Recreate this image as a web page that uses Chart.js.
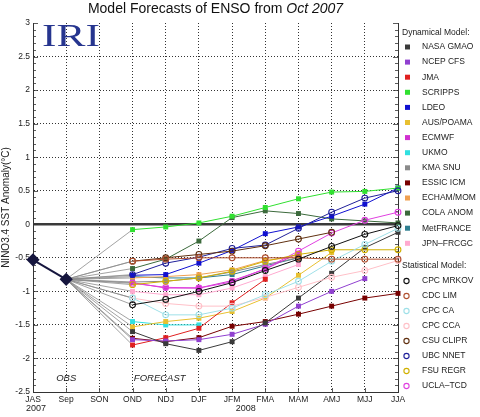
<!DOCTYPE html>
<html>
<head>
<meta charset="utf-8">
<script src="https://cdn.jsdelivr.net/npm/chart.js@4"></script>
<style>
html,body{margin:0;padding:0;background:#fff;}
#wrap{width:480px;height:417px;position:relative;}
</style>
</head>
<body>
<div id="wrap"><canvas id="c" width="480" height="417"></canvas></div>
<script>
// ---------- DATA ----------
const categories = ["JAS","Sep","SON","OND","NDJ","DJF","JFM","FMA","MAM","AMJ","MJJ","JJA"];
const yTicks = [3,2.5,2,1.5,1,0.5,0,-0.5,-1,-1.5,-2,-2.5];
const observed = [-0.53, -0.82];           // JAS, Sep
const forecastStart = 3;                   // forecasts begin at OND

// Dynamical models (values from OND onward)
const nasaGmao  = [-1.60,-1.78,-1.88,-1.75,-1.47,-1.10,-0.73,-0.35,-0.12];
const ncepCfs   = [-1.72,-1.74,-1.72,-1.64,-1.49,-1.22,-1.00,-0.81];
const jma       = [-1.80,-1.69,-1.55,-1.17,-0.82];
const scripps   = [-0.08,-0.04,0.02,0.12,0.25,0.38,0.48,0.49,0.54];
const ldeo      = [-0.76,-0.75,-0.58,-0.39,-0.14,-0.04,0.12,0.30,0.54];
const ausPoama  = [-1.53,-1.45,-1.40,-1.30,-1.10,-0.76,-0.42];
const ecmwf     = [-0.87,-0.95,-0.95,-0.84,-0.67,-0.43];
const ukmo      = [-1.45,-1.50,-1.50];
const kmaSnu    = [-0.86,-0.85,-0.80,-0.71,-0.60,-0.50];
const essicIcm  = [-1.70,-1.75,-1.69,-1.52,-1.45,-1.34,-1.22,-1.10,-1.03];
const echamMom  = [-0.80,-0.78,-0.75,-0.68,-0.54,-0.48];
const colaAnom  = [-0.66,-0.52,-0.25,0.10,0.20,0.16,0.08,0.05,0.02];
const metFrance = [-0.78,-0.80,-0.80,-0.75,-0.62,-0.50];
const jpnFrcgc  = [-1.00,-1.05,-1.05,-0.95,-0.78,-0.60];
// Statistical models
const cpcMrkov  = [-1.20,-1.12,-1.00,-0.87,-0.69,-0.52,-0.33,-0.15,-0.02];
const cdcLim    = [-0.55,-0.52,-0.50,-0.50,-0.50,-0.50,-0.52,-0.52,-0.52];
const cpcCa     = [-1.10,-1.35,-1.35,-1.25,-1.05,-0.85,-0.55,-0.30,-0.06];
const cpcCca    = [-1.10,-1.18,-1.22,-1.22,-1.09,-0.94,-0.79,-0.69,-0.54];
const csuClipr  = [-0.55,-0.50,-0.45,-0.40,-0.32,-0.22,-0.12];
const ubcNnet   = [-0.75,-0.58,-0.49,-0.36,-0.31,-0.06,0.18,0.39,0.50];
const fsuRegr   = [-0.90,-0.85,-0.80,-0.70,-0.55,-0.45,-0.38,-0.38,-0.38];
const uclaTcd   = [-0.88,-0.94,-0.95,-0.86,-0.66,-0.40,-0.13,0.06,0.18];

const dynamicalNames  = ["NASA GMAO","NCEP CFS","JMA","SCRIPPS","LDEO","AUS/POAMA","ECMWF","UKMO","KMA SNU","ESSIC ICM","ECHAM/MOM","COLA ANOM","MetFRANCE","JPN\u2013FRCGC"];
const dynamicalSeries = [nasaGmao,ncepCfs,jma,scripps,ldeo,ausPoama,ecmwf,ukmo,kmaSnu,essicIcm,echamMom,colaAnom,metFrance,jpnFrcgc];
const dynamicalColors = ["#3a3a3a","#9040d0","#e02020","#30e030","#1010d0","#e8c030","#d030d0","#30e0e0","#8a8a8a","#780000","#f0a050","#3c6a3c","#2f7f90","#ffaad0"];

const statisticalNames  = ["CPC MRKOV","CDC LIM","CPC CA","CPC CCA","CSU CLIPR","UBC NNET","FSU REGR","UCLA\u2013TCD"];
const statisticalSeries = [cpcMrkov,cdcLim,cpcCa,cpcCca,csuClipr,ubcNnet,fsuRegr,uclaTcd];
const statisticalColors = ["#111111","#b05030","#9fe0e8","#ffc0c8","#603010","#20209a","#d0b000","#e040e0"];

// ---------- BUILD ----------
const FONT = "'Liberation Sans', Arial, Helvetica, sans-serif";
function pad(arr){ const out = new Array(categories.length).fill(null); arr.forEach((v,i)=>{ out[forecastStart+i]=v; }); return out; }
function connector(arr){ const out = new Array(categories.length).fill(null); out[1]=observed[1]; out[forecastStart]=arr[0]; return out; }

const datasets = [];
const allSeries = dynamicalSeries.concat(statisticalSeries);
allSeries.forEach(s=>{
  datasets.push({data:connector(s), borderColor:"#8c8c8c", borderWidth:0.8, pointRadius:0, spanGaps:true, order:50});
});
dynamicalSeries.forEach((s,i)=>{
  datasets.push({label:dynamicalNames[i], data:pad(s), borderColor:dynamicalColors[i], backgroundColor:dynamicalColors[i],
    borderWidth:1, pointStyle:'rect', pointRadius:3.5, pointBorderWidth:0, pointBackgroundColor:dynamicalColors[i], order:20});
});
statisticalSeries.forEach((s,i)=>{
  datasets.push({label:statisticalNames[i], data:pad(s), borderColor:statisticalColors[i], backgroundColor:"rgba(255,255,255,0)",
    borderWidth:1, pointStyle:'circle', pointRadius:2.9, pointBorderWidth:1.1, pointBackgroundColor:"rgba(255,255,255,0)", order:10});
});
const obsData = new Array(categories.length).fill(null); obsData[0]=observed[0]; obsData[1]=observed[1];
datasets.push({label:"Observed", data:obsData, borderColor:"#16163e", borderWidth:2, pointStyle:'rectRot', pointRadius:5.2,
  pointBackgroundColor:"#16163e", pointBorderColor:"#16163e", order:0});

const deco = {
  id:'deco',
  beforeDatasetsDraw(chart){
    const {ctx, chartArea:a, scales:{x,y}} = chart;
    ctx.save();
    // zero line
    const y0 = y.getPixelForValue(0);
    ctx.strokeStyle="#3a3a3a"; ctx.lineWidth=2.6;
    ctx.beginPath(); ctx.moveTo(a.left,y0); ctx.lineTo(a.right,y0); ctx.stroke();
    // right axis
    ctx.strokeStyle="#333"; ctx.lineWidth=1;
    ctx.beginPath(); ctx.moveTo(a.right+0.5,a.top); ctx.lineTo(a.right+0.5,a.bottom); ctx.stroke();
    // minor ticks
    ctx.lineWidth=0.8;
    for(let k=-25;k<=30;k++){
      const v=k/10, py=Math.round(y.getPixelForValue(v))+0.5;
      const len = (k%5===0)?5:3;
      ctx.beginPath();
      ctx.moveTo(a.left,py); ctx.lineTo(a.left+len,py);
      ctx.moveTo(a.right,py); ctx.lineTo(a.right-len,py);
      ctx.stroke();
    }
    categories.forEach((c,i)=>{
      const px=Math.round(x.getPixelForValue(i))+0.5;
      ctx.beginPath(); ctx.moveTo(px,a.bottom); ctx.lineTo(px,a.bottom-4); ctx.stroke();
    });
    ctx.restore();
  },
  afterDraw(chart){
    const {ctx, chartArea:a, scales:{x,y}} = chart;
    ctx.save();
    // title
    ctx.fillStyle="#111"; ctx.textBaseline="middle";
    const t1="Model Forecasts of ENSO from ", t2="Oct 2007";
    ctx.font="14px "+FONT; const w1=ctx.measureText(t1).width;
    ctx.font="italic 14px "+FONT; const w2=ctx.measureText(t2).width;
    const cx=(a.left+a.right)/2; let sx=cx-(w1+w2)/2;
    ctx.textAlign="left";
    ctx.font="14px "+FONT; ctx.fillText(t1,sx,9);
    ctx.font="italic 14px "+FONT; ctx.fillText(t2,sx+w1,9);
    // IRI logo
    ctx.save();
    ctx.fillStyle="#26358f";
    ctx.font="31px 'Liberation Serif','DejaVu Serif',serif";
    ctx.textBaseline="alphabetic";
    ctx.translate(a.left+9,a.top+23);
    ctx.scale(1.4,1);
    ctx.fillText("IRI",0,0);
    ctx.restore();
    // OBS / FORECAST
    ctx.fillStyle="#222"; ctx.font="italic 9.5px "+FONT; ctx.textAlign="center"; ctx.textBaseline="middle";
    ctx.fillText("OBS", x.getPixelForValue(1), y.getPixelForValue(-2.3));
    ctx.fillText("FORECAST", (x.getPixelForValue(3)+x.getPixelForValue(5))/2 - 6, y.getPixelForValue(-2.3));
    // years
    ctx.font="9px "+FONT;
    ctx.fillText("2007", x.getPixelForValue(0)+3, a.bottom+17);
    ctx.fillText("2008", (x.getPixelForValue(6)+x.getPixelForValue(7))/2-3, a.bottom+17);
    // legend
    ctx.textAlign="left"; ctx.textBaseline="middle"; ctx.font="8.5px "+FONT; ctx.fillStyle="#222";
    const lx=402, mx=407.5, tx=422;
    ctx.fillText("Dynamical Model:", lx, 33);
    dynamicalNames.forEach((n,i)=>{
      const py=47+i*15.1;
      ctx.fillStyle=dynamicalColors[i]; ctx.fillRect(mx-2.5,py-2.5,5,5);
      ctx.fillStyle="#222"; ctx.fillText(n,tx,py);
    });
    ctx.fillText("Statistical Model:", lx, 266);
    statisticalNames.forEach((n,i)=>{
      const py=281+i*15;
      ctx.strokeStyle=statisticalColors[i]; ctx.lineWidth=1.1;
      ctx.beginPath(); ctx.arc(mx-1,py,2.6,0,Math.PI*2); ctx.stroke();
      ctx.fillStyle="#222"; ctx.fillText(n,tx,py);
    });
    ctx.restore();
  }
};

new Chart(document.getElementById('c'), {
  type:'line',
  data:{labels:categories, datasets},
  plugins:[deco],
  options:{
    responsive:false, animation:false, devicePixelRatio:1,
    layout:{padding:{top:23,right:82,left:0,bottom:0}},
    plugins:{legend:{display:false}, tooltip:{enabled:false}, title:{display:false}},
    elements:{line:{tension:0}},
    scales:{
      x:{
        offset:false,
        grid:{color:"#333", lineWidth:1, drawTicks:false},
        border:{display:true,color:"#333",width:1,dash:[1,2]},
        ticks:{color:"#222", font:{family:FONT,size:8.5}, padding:3, maxRotation:0, autoSkip:false},
        afterFit(s){ s.height=25; }
      },
      y:{
        min:-2.5, max:3,
        afterBuildTicks(s){ s.ticks = yTicks.slice().reverse().map(v=>({value:v})); },
        grid:{color:(c)=> (c.tick && c.tick.value===3) ? "rgba(0,0,0,0)" : "#333", lineWidth:1, drawTicks:false},
        border:{display:true,color:"#333",width:1,dash:[1,2]},
        ticks:{color:"#222", font:{family:FONT,size:8.5}, padding:3, callback:(v)=>String(Math.round(v*10)/10)},
        title:{display:true,text:"NINO3.4 SST Anomaly(\u00B0C)", color:"#222", font:{family:FONT,size:10}, padding:{top:0,bottom:0}},
        afterFit(s){ s.width=33; }
      }
    }
  }
});
</script>
</body>
</html>
